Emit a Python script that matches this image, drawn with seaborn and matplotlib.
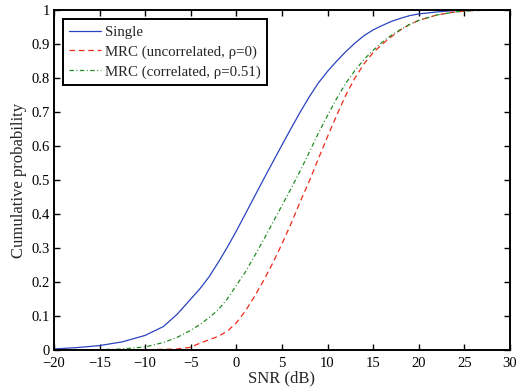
import matplotlib
matplotlib.use("Agg")
import matplotlib.pyplot as plt
import seaborn as sns

# SNR grid (dB)
snr = [-20, -17.5, -15, -12.5, -10, -8, -6.5, -5, -4, -3, -2, -1, 0, 1, 2, 3, 4, 5,
       6, 7, 8, 9, 10, 11, 12, 13, 14, 15, 16, 17, 18, 19, 20, 22, 24, 26, 28, 30]

single = [0.003, 0.007, 0.013, 0.024, 0.043, 0.069, 0.105, 0.150, 0.180, 0.215, 0.257,
          0.302, 0.350, 0.401, 0.452, 0.503, 0.553, 0.603, 0.652, 0.700, 0.745, 0.786,
          0.820, 0.850, 0.878, 0.903, 0.925, 0.942, 0.955, 0.967, 0.976, 0.984, 0.989,
          0.995, 0.999, 1.0, 1.0, 1.0]

mrc_uncorr = [0.0, 0.0, 0.0, 0.0005, 0.001, 0.002, 0.003, 0.008, 0.020, 0.030, 0.040,
              0.055, 0.080, 0.115, 0.158, 0.205, 0.256, 0.312, 0.372, 0.436, 0.497, 0.563,
              0.628, 0.690, 0.750, 0.800, 0.842, 0.875, 0.900, 0.922, 0.942, 0.958, 0.970,
              0.986, 0.995, 0.999, 1.0, 1.0]

mrc_corr = [0.0, 0.0005, 0.001, 0.003, 0.009, 0.022, 0.037, 0.058, 0.075, 0.095, 0.118,
            0.150, 0.190, 0.230, 0.277, 0.325, 0.375, 0.425, 0.475, 0.527, 0.582, 0.638,
            0.690, 0.740, 0.785, 0.822, 0.855, 0.882, 0.906, 0.926, 0.943, 0.958, 0.970,
            0.986, 0.995, 0.999, 1.0, 1.0]

labels = ["Single", "MRC (uncorrelated, \u03c1=0)", "MRC (correlated, \u03c1=0.51)"]
x_ticks = [-20, -15, -10, -5, 0, 5, 10, 15, 20, 25, 30]
y_ticks = [0, 0.1, 0.2, 0.3, 0.4, 0.5, 0.6, 0.7, 0.8, 0.9, 1]
y_ticklabels = ["0", "0.1", "0.2", "0.3", "0.4", "0.5", "0.6", "0.7", "0.8", "0.9", "1"]

sns.set_style("ticks")
plt.rcParams["font.family"] = ["Liberation Serif", "DejaVu Serif"]
plt.rcParams["font.size"] = 10.5
plt.rcParams["axes.unicode_minus"] = True

fig = plt.figure(figsize=(5.21, 3.87), dpi=100)
ax = fig.add_axes([0.1036, 0.0956, 0.875, 0.878])

sns.lineplot(x=snr, y=single, ax=ax, color="#2a44c0", linewidth=0.9,
             linestyle="-", label=labels[0])
sns.lineplot(x=snr, y=mrc_uncorr, ax=ax, color="#ee2a1a", linewidth=0.9,
             linestyle=(0, (4.5, 3.0)), label=labels[1])
sns.lineplot(x=snr, y=mrc_corr, ax=ax, color="#228b22", linewidth=0.9,
             linestyle=(0, (3.5, 2.0, 0.8, 2.0)), label=labels[2])

ax.set_xlim(-20, 30)
ax.set_ylim(0, 1)
ax.set_xticks(x_ticks)
ax.set_yticks(y_ticks)
ax.set_yticklabels(y_ticklabels)
ax.set_xlabel("SNR (dB)", fontsize=12, labelpad=0)
ax.set_ylabel("Cumulative probability", fontsize=12, labelpad=3)

for s in ax.spines.values():
    s.set_visible(True)
    s.set_linewidth(1.4)
    s.set_color("black")
ax.tick_params(direction="in", length=4, width=1.0, top=True, right=True,
               labelsize=10.5, colors="black")
ax.tick_params(axis="x", pad=5)
ax.tick_params(axis="y", pad=3)

leg = ax.legend(loc="upper left", frameon=True, fancybox=False, edgecolor="black",
                framealpha=1, fontsize=10.7, handlelength=2.15, handletextpad=0.25,
                labelspacing=0.43, borderpad=0.42, borderaxespad=0.6)
leg.get_frame().set_linewidth(1.4)

fig.savefig("out.png", dpi=100)
